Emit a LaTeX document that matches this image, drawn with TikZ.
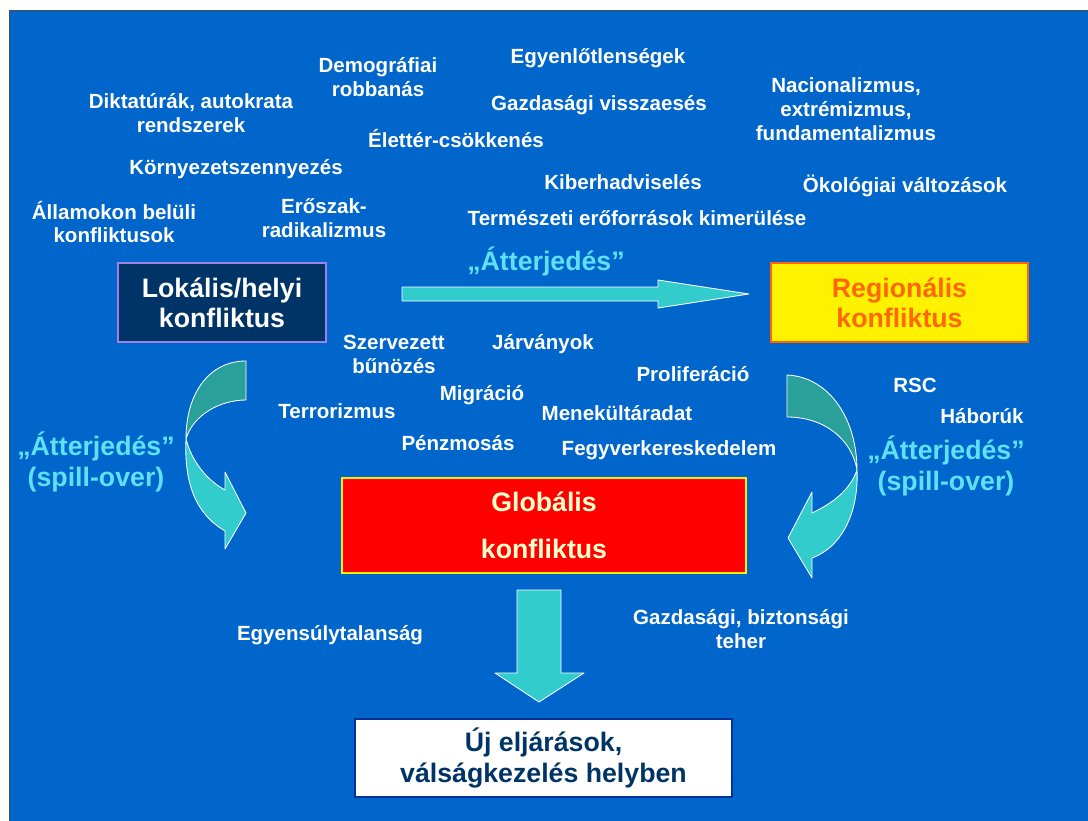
\documentclass[tikz,border=0pt]{standalone}
\usepackage{fontspec}
\setmainfont{Liberation Sans}
\usetikzlibrary{positioning}

\definecolor{bgblue}{RGB}{0,102,204}
\definecolor{navybox}{RGB}{0,51,102}
\definecolor{lavender}{RGB}{160,130,230}
\definecolor{spillcyan}{RGB}{95,225,245}
\definecolor{arrowcyan}{RGB}{51,204,204}
\definecolor{arrowteal}{RGB}{42,160,155}
\definecolor{orangetxt}{RGB}{255,102,0}
\definecolor{creamtxt}{RGB}{255,255,204}
\definecolor{darkframe}{RGB}{0,51,153}

\begin{document}
\begin{tikzpicture}[x=0.025cm, y=-0.025cm,
	lbl/.style={text=white, font=\fontsize{14.6}{17}\selectfont\bfseries, align=center, inner sep=0pt},
	spread/.style={text=spillcyan, font=\fontsize{19}{21.5}\selectfont\bfseries, align=center, inner sep=0pt},
	box/.style={rectangle, font=\fontsize{19}{21.5}\selectfont\bfseries, align=center, line width=0.8pt},
	blockarrow/.style={draw=white, line width=0.6pt, line join=round}]

	\useasboundingbox (0,0) rectangle (1088,821);
	\fill[white] (0,0) rectangle (1088,821);
	\draw[fill=bgblue, draw=gray!60!black] (9,10) rectangle (1092,825);

	% main boxes
	\node[box, fill=navybox, draw=lavender, text=white, minimum width=5.2cm, minimum height=1.975cm] (lok) at (222,302.5) {Lokális/helyi\\konfliktus};
	\node[box, fill=yellow, draw=orangetxt, text=orangetxt, minimum width=6.425cm, minimum height=1.975cm] (reg) at (899.5,302.5) {Regionális\\konfliktus};
	\node[box, fill=red, draw=yellow, text=creamtxt, minimum width=10.1cm, minimum height=2.375cm] (glob) at (544,525.5) {Globális\\[12pt]konfliktus};
	\node[box, fill=white, draw=darkframe, text=navybox, minimum width=9.425cm, minimum height=1.95cm] (uj) at (543.5,758) {Új eljárások,\\válságkezelés helyben};

	% block arrows
	\draw[blockarrow, fill=arrowcyan] (402,287) -- (658,287) -- (658,280) -- (749,294) -- (658,308) -- (658,301) -- (402,301) -- cycle;
	\draw[blockarrow, fill=arrowcyan] (517,590) -- (561,590) -- (561,673) -- (584,673) -- (539,702) -- (495,673) -- (517,673) -- cycle;

	% curved arrow, left
	\draw[blockarrow, fill=arrowteal] (246,361) .. controls (210,361) and (186,392) .. (186,439)
		.. controls (193,415) and (220,400) .. (246,400) -- cycle;
	\draw[blockarrow, fill=arrowcyan] (186,439) .. controls (184,484) and (196,514) .. (225,531)
		-- (225,549) -- (246,513) -- (225,472) -- (225,490)
		.. controls (207,480) and (192,462) .. (186,439) -- cycle;

	% curved arrow, right
	\draw[blockarrow, fill=arrowteal] (787,375) .. controls (830,377) and (857,420) .. (857,470)
		.. controls (852,440) and (825,417) .. (787,417) -- cycle;
	\draw[blockarrow, fill=arrowcyan] (857,470) .. controls (859,512) and (842,547) .. (812,558)
		-- (812,578) -- (788,538) -- (812,492) -- (812,513)
		.. controls (833,503) and (850,490) .. (857,470) -- cycle;

	% spreading labels
	\node[spread] (spreadtop) at (546,261) {„Átterjedés”};
	\node[spread] (spreadleft) at (96,462) {„Átterjedés”\\(spill-over)};
	\node[spread] (spreadright) at (946,466) {„Átterjedés”\\(spill-over)};

	% causes, upper part
	\node[lbl] (demog) at (378,77) {Demográfiai\\robbanás};
	\node[lbl] (egyen) at (598,58) {Egyenlőtlenségek};
	\node[lbl] (dikt) at (191,113) {Diktatúrák, autokrata\\rendszerek};
	\node[lbl] (gazd) at (599,105) {Gazdasági visszaesés};
	\node[lbl] (nac) at (846,109) {Nacionalizmus,\\extrémizmus,\\fundamentalizmus};
	\node[lbl] (elet) at (456,139) {Élettér-csökkenés};
	\node[lbl] (korny) at (236,169) {Környezetszennyezés};
	\node[lbl] (kiber) at (623,182) {Kiberhadviselés};
	\node[lbl] (okol) at (905,186) {Ökológiai változások};
	\node[lbl] (allam) at (114,222) {Államokon belüli\\konfliktusok};
	\node[lbl] (erosz) at (324,218) {Erőszak-\\radikalizmus};
	\node[lbl] (term) at (637,218) {Természeti erőforrások kimerülése};

	% causes, middle part
	\node[lbl] (szerv) at (394,354) {Szervezett\\bűnözés};
	\node[lbl] (jarv) at (543,344) {Járványok};
	\node[lbl] (prolif) at (693,374) {Proliferáció};
	\node[lbl] (rsc) at (915,385) {RSC};
	\node[lbl] (migr) at (482,395) {Migráció};
	\node[lbl] (terr) at (337,411) {Terrorizmus};
	\node[lbl] (menek) at (617,413) {Menekültáradat};
	\node[lbl] (habor) at (982,416) {Háborúk};
	\node[lbl] (penz) at (458,443) {Pénzmosás};
	\node[lbl] (fegyv) at (669,450) {Fegyverkereskedelem};

	% effects
	\node[lbl] (egyens) at (330,635) {Egyensúlytalanság};
	\node[lbl] (teher) at (741,629) {Gazdasági, biztonsági\\teher};
\end{tikzpicture}
\end{document}
